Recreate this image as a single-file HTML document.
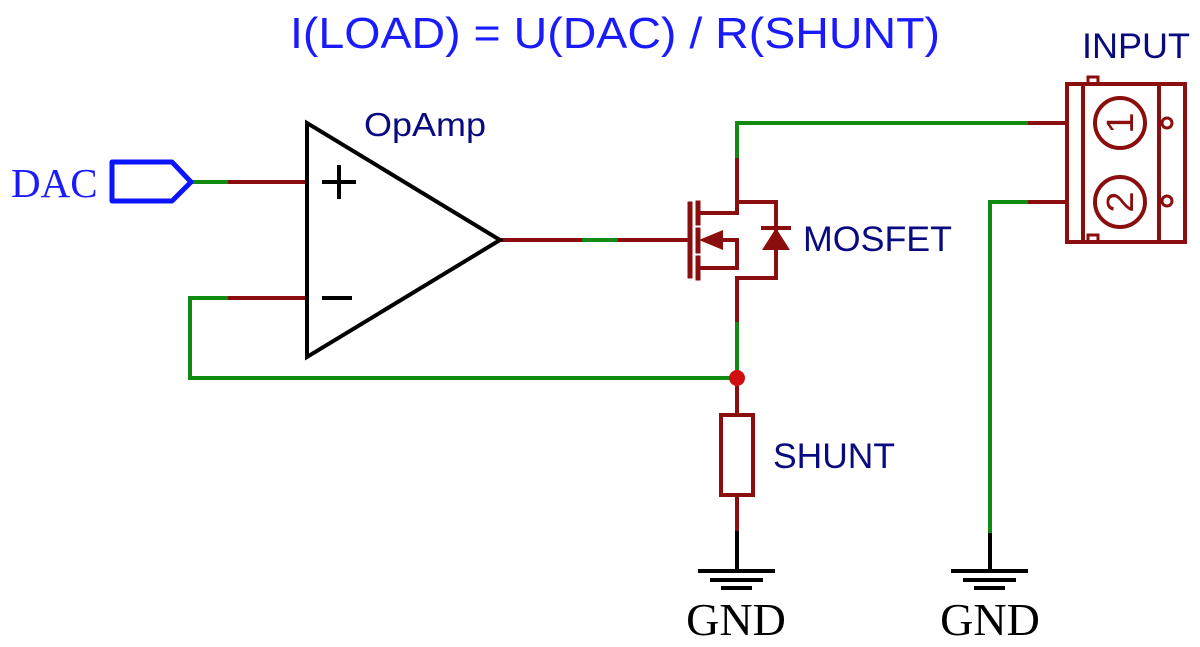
<!DOCTYPE html>
<html><head><style>body{margin:0;background:#fff}svg{display:block}</style></head><body>
<svg width="1200" height="647" viewBox="0 0 1200 647" xmlns="http://www.w3.org/2000/svg">
<g fill="none" stroke-width="4" stroke-linecap="square">
<g stroke="#108a10">
<path d="M191,182H230"/>
<path d="M190,298H230M190,298V378H737V320"/>
<path d="M580,240H620"/>
<path d="M737,160V123H1030"/>
<path d="M990,535V202H1030"/>
</g>
<g stroke="#8b0e0e">
<path d="M230,182H307"/>
<path d="M230,298H307"/>
<path d="M500,240H580M620,240H690"/>
<path d="M737,160V213"/>
<path d="M737,278V320"/>
<path d="M737,378V415M737,495V533"/>
<path d="M1030,123H1067M1030,202H1067"/>
<rect x="721" y="415" width="32" height="80"/>
<path d="M690,204V276" stroke-width="5"/>
<path d="M698,203V223M698,230V251M698,258V278" stroke-width="5"/>
<path d="M700,213H737V202H776V278H737M700,268H737V240H718"/>
<rect x="1067" y="84" width="118" height="158"/>
<path d="M1083,84V242M1159,84V242"/>
<rect x="1088" y="77" width="10" height="7" stroke-width="3"/>
<rect x="1088" y="235" width="10" height="7" stroke-width="3"/>
<circle cx="1120" cy="123" r="25"/>
<circle cx="1120" cy="202" r="25"/>
<circle cx="1167" cy="123" r="5" stroke-width="3"/>
<circle cx="1167" cy="201" r="5" stroke-width="3"/>
</g>
<g stroke="#000">
<path d="M307,123V357L500,240Z" stroke-linejoin="miter"/>
<path d="M324,182H354M339,167V197M324,298H350"/>
<path d="M737,533V571M700,571H773M712,580H761M723,588H750"/>
<path d="M990,535V571M953,571H1026M965,580H1014M976,588H1003"/>
</g>
<path d="M112,162H172L191,182L172,201H112Z" stroke="#0a14ff" stroke-width="5" stroke-linejoin="round"/>
</g>
<g fill="#8b0e0e">
<path d="M699,240L723,230V250Z"/>
<path d="M776,228L762,250H790Z"/>
<rect x="761" y="226" width="30" height="4"/>
</g>
<circle cx="737" cy="378" r="8" fill="#d01010"/>
<g font-family="Liberation Sans, sans-serif" fill="#8b0e0e" font-size="38" text-anchor="middle">
<text transform="translate(1120,123) rotate(-90)" dy="13">1</text>
<text transform="translate(1120,202) rotate(-90)" dy="13">2</text>
</g>
<g font-family="Liberation Sans, sans-serif">
<text x="290" y="48" font-size="44" fill="#1a1aff" textLength="650" lengthAdjust="spacingAndGlyphs">I(LOAD) = U(DAC) / R(SHUNT)</text>
<text x="364" y="136" font-size="33" fill="#0a0a80" textLength="122" lengthAdjust="spacingAndGlyphs">OpAmp</text>
<text x="803" y="251" font-size="35" fill="#0a0a80" textLength="149" lengthAdjust="spacingAndGlyphs">MOSFET</text>
<text x="773" y="468" font-size="35" fill="#0a0a80" textLength="122" lengthAdjust="spacingAndGlyphs">SHUNT</text>
<text x="1082" y="58" font-size="35" fill="#0a0a80" textLength="108" lengthAdjust="spacingAndGlyphs">INPUT</text>
</g>
<g font-family="Liberation Serif, serif">
<text x="11" y="197" font-size="41" fill="#1a1aff">DAC</text>
<text x="736" y="635" font-size="46" fill="#000" text-anchor="middle">GND</text>
<text x="990" y="635" font-size="46" fill="#000" text-anchor="middle">GND</text>
</g>
</svg>
</body></html>
